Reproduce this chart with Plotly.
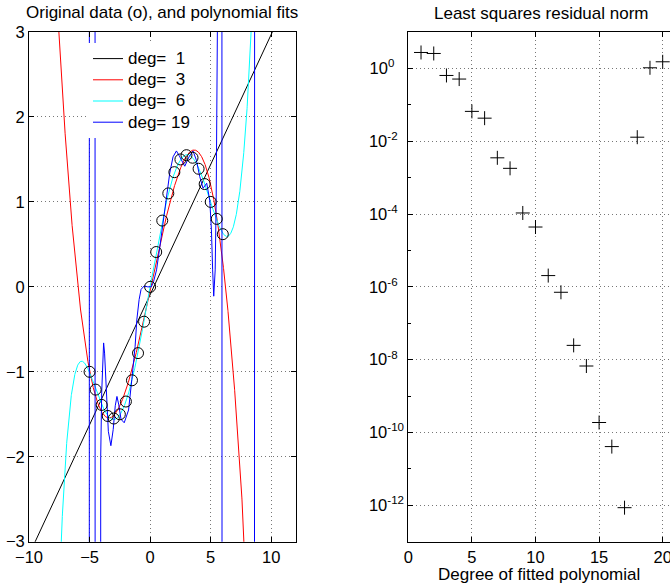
import numpy as np
import plotly.graph_objects as go

# ---- data ----
data_x = [-5.0, -4.5, -4.0, -3.5, -3.0, -2.5, -2.0, -1.5, -1.0, -0.5, 0.0,
          0.5, 1.0, 1.5, 2.0, 2.5, 3.0, 3.5, 4.0, 4.5, 5.0, 5.5, 6.0]
data_y = [-1.00, -1.21, -1.39, -1.52, -1.55, -1.50, -1.35, -1.10, -0.78, -0.41, 0.0,
          0.41, 0.78, 1.10, 1.35, 1.50, 1.55, 1.52, 1.39, 1.21, 1.00, 0.80, 0.62]

fit_degrees = [1, 3, 6]
fit_colors = ["#000000", "#ff0000", "#00ffff"]

# degree-19 fit (numerically ill-conditioned in the original)
deg19_x = [-5.04, -5.00, -4.57, -4.52, -4.13, -4.08, -4.00, -3.92, -3.84, -3.76, -3.62,
           -3.45, -3.24, -3.05, -2.88, -2.74, -2.60, -2.40, -2.14, -1.95, -1.78, -1.51,
           -1.24, -1.10, -0.91, -0.75, -0.50, -0.20, 0.10, 0.28, 0.53, 0.80, 1.07, 1.35,
           1.62, 1.89, 2.17, 2.45, 2.86, 3.21, 3.54, 3.82, 4.09, 4.37, 4.67, 4.92, 5.06,
           5.16, 5.25, 5.37, 5.45, 5.55, 5.60, 5.90, 5.96, 8.58, 8.66]
deg19_y = [-30, 30, 30, -30, -30, -2.0, -1.25, -0.82, -0.66, -0.78, -1.25,
           -1.70, -1.87, -1.68, -1.40, -1.29, -1.38, -1.56, -1.60, -1.53, -1.45, -1.09,
           -0.70, -0.39, -0.15, -0.03, 0.01, 0.0, 0.0, 0.06, 0.20, 0.47, 0.75, 1.06,
           1.34, 1.53, 1.60, 1.53, 1.42, 1.53, 1.60, 1.49, 1.30, 1.16, 1.22, 1.02, 0.67,
           0.20, -0.11, 0.20, 1.00, 3.0, 30, 30, -30, -30, 30]

degrees = list(range(1, 21))
resid_norm = [2.74, 2.57, 0.64, 0.51, 0.066, 0.043, 3.5e-3, 1.8e-3, 1.07e-4, 4.4e-5,
              2.04e-6, 7.1e-7, 2.47e-8, 6.7e-9, 1.88e-10, 4.1e-11, 8.6e-13, 1.29e-2,
              1.04, 1.52]

left_xticks = [-10, -5, 0, 5, 10]
left_yticks = [-3, -2, -1, 0, 1, 2, 3]
right_xticks = [0, 5, 10, 15, 20]
right_ytick_exp = [0, -2, -4, -6, -8, -10, -12]
right_minor_exp = [1, -1, -3, -5, -7, -9, -11]

FONT = "Liberation Sans, Arial, Helvetica, sans-serif"
FS = 17        # titles / labels / legend text
TFS = 16.5     # tick labels
W, H = 670, 587


def legend_name(d):
    label = "deg=\u00a0%s" % ("\u00a0" + str(d) if d < 10 else str(d))
    return '<span style="font-size:%gpx">%s</span>' % (FS, label)


fig = go.Figure()

xx = np.linspace(-10, 12, 2201)
for d, c in zip(fit_degrees, fit_colors):
    p = np.polyfit(data_x, data_y, d)
    fig.add_trace(go.Scatter(x=xx, y=np.polyval(p, xx), mode="lines",
                             line=dict(color=c, width=1),
                             name=legend_name(d), xaxis="x", yaxis="y"))
fig.add_trace(go.Scatter(x=deg19_x, y=deg19_y, mode="lines",
                         line=dict(color="#0000ff", width=1),
                         name=legend_name(19), xaxis="x", yaxis="y"))
fig.add_trace(go.Scatter(x=data_x, y=data_y, mode="markers",
                         marker=dict(symbol="circle-open", size=11,
                                     line=dict(color="#000000", width=1), color="#000000"),
                         showlegend=False, xaxis="x", yaxis="y"))

fig.add_trace(go.Scatter(x=degrees, y=resid_norm, mode="markers",
                         marker=dict(symbol="cross-thin", size=10,
                                     line=dict(color="#000000", width=1)),
                         showlegend=False, xaxis="x2", yaxis="y2"))


def px_x(p):
    return p / W


def px_y(p):
    return 1 - p / H


grid = dict(showgrid=True, gridcolor="#777777", griddash="1px,3px", gridwidth=1)
axcommon = dict(showline=True, linecolor="#000000", linewidth=1, ticks="inside",
                ticklen=5, tickcolor="#000000", zeroline=False, automargin=False,
                ticklabeloverflow="allow",
                tickfont=dict(family=FONT, size=TFS, color="#000000"), **grid)

x2_end = (670 - 408.3) / 12.72


# pad the shorter exponents so the "10" bases line up like the original
def exp_label(e):
    s = "%d" % e
    pad = {1: "\u2007\u2008", 2: "\u2007", 3: ""}[len(s)]
    return "10<sup>" + s + pad + "</sup>"


fig.update_layout(
    template="none",
    width=W, height=H, margin=dict(l=0, r=0, t=0, b=0, pad=0),
    paper_bgcolor="white", plot_bgcolor="white",
    font=dict(family=FONT, size=FS, color="#000000"),
    showlegend=True,
    xaxis=dict(domain=[px_x(29), px_x(295.5)], range=[-10, 12], tickvals=left_xticks,
               mirror="ticks", anchor="y", **axcommon),
    yaxis=dict(domain=[px_y(541.7), px_y(32)], range=[-3, 3], tickvals=left_yticks,
               mirror="ticks", anchor="x", **axcommon),
    xaxis2=dict(domain=[px_x(408.3), 1.0], range=[0, x2_end], tickvals=right_xticks,
                mirror="ticks", anchor="y2",
                title=dict(text="Degree of fitted polynomial",
                           font=dict(family=FONT, size=FS), standoff=1),
                **axcommon),
    yaxis2=dict(domain=[px_y(541.7), px_y(32)], type="log", range=[-13, 1],
                tickvals=[10.0 ** e for e in right_ytick_exp],
                ticktext=[exp_label(e) for e in right_ytick_exp],
                minor=dict(tickvals=[10.0 ** e for e in right_minor_exp], ticks="inside",
                           ticklen=3, tickcolor="#000000", showgrid=False),
                mirror=False, anchor="x2", **axcommon),
    legend=dict(x=px_x(88), y=px_y(43), xanchor="left", yanchor="top",
                bgcolor="white", borderwidth=0,
                font=dict(family=FONT, size=14, color="#000000")),
    annotations=[
        dict(text="Original data (o), and polynomial fits", xref="paper", yref="paper",
             x=px_x(161.5), y=px_y(12), xanchor="center", yanchor="middle",
             showarrow=False, font=dict(family=FONT, size=FS, color="#000000")),
        dict(text="Least squares residual norm", xref="paper", yref="paper",
             x=px_x(541.5), y=px_y(13), xanchor="center", yanchor="middle",
             showarrow=False, font=dict(family=FONT, size=FS, color="#000000")),
    ],
)

fig.write_html("out.html",
               config={"displayModeBar": False},
               post_script="document.body.style.margin='0px';"
                           "document.body.style.overflow='hidden';")
